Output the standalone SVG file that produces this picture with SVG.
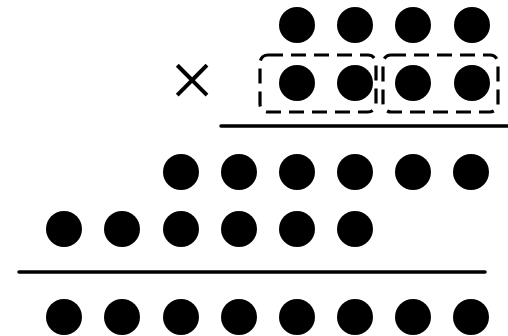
<svg xmlns="http://www.w3.org/2000/svg" width="508" height="336" viewBox="0 0 508 336">
<style>
.dot{fill:#000}
.box{fill:none;stroke:#000;stroke-width:3.2;stroke-dasharray:15 8}
.rule{stroke:#000;stroke-width:3.5;stroke-linecap:round}
.op{font-family:"Liberation Serif",serif;font-size:80px;fill:#000}
</style>
<rect width="508" height="336" fill="#fff"/>
<g id="row1">
<circle class="dot" cx="297" cy="25" r="18"/><circle class="dot" cx="355" cy="25" r="18"/><circle class="dot" cx="413" cy="25" r="18"/><circle class="dot" cx="472" cy="25" r="18"/>
</g>
<g id="row2">
<circle class="dot" cx="297" cy="83" r="18"/><circle class="dot" cx="355" cy="83" r="18"/><circle class="dot" cx="413" cy="83" r="18"/><circle class="dot" cx="472" cy="83" r="18"/>
</g>
<g id="groups">
<rect class="box" x="260" y="55" width="116" height="57" rx="8"/>
<rect class="box" x="383" y="55" width="115" height="57" rx="8"/>
</g>
<g id="times"><text class="op" x="192" y="107" text-anchor="middle">×</text></g>
<g id="rules">
<line class="rule" x1="221" y1="126" x2="508" y2="126"/>
<line class="rule" x1="19" y1="272" x2="485" y2="272"/>
</g>
<g id="row3">
<circle class="dot" cx="181" cy="172" r="18"/><circle class="dot" cx="239" cy="172" r="18"/><circle class="dot" cx="297" cy="172" r="18"/><circle class="dot" cx="355" cy="172" r="18"/><circle class="dot" cx="413" cy="172" r="18"/><circle class="dot" cx="471" cy="172" r="18"/>
</g>
<g id="row4">
<circle class="dot" cx="64" cy="229" r="18"/><circle class="dot" cx="122" cy="229" r="18"/><circle class="dot" cx="181" cy="229" r="18"/><circle class="dot" cx="239" cy="229" r="18"/><circle class="dot" cx="297" cy="229" r="18"/><circle class="dot" cx="355" cy="229" r="18"/>
</g>
<g id="row5">
<circle class="dot" cx="64" cy="317" r="18"/><circle class="dot" cx="122" cy="317" r="18"/><circle class="dot" cx="181" cy="317" r="18"/><circle class="dot" cx="239" cy="317" r="18"/><circle class="dot" cx="297" cy="317" r="18"/><circle class="dot" cx="355" cy="317" r="18"/><circle class="dot" cx="413" cy="317" r="18"/><circle class="dot" cx="471" cy="317" r="18"/>
</g>
</svg>
